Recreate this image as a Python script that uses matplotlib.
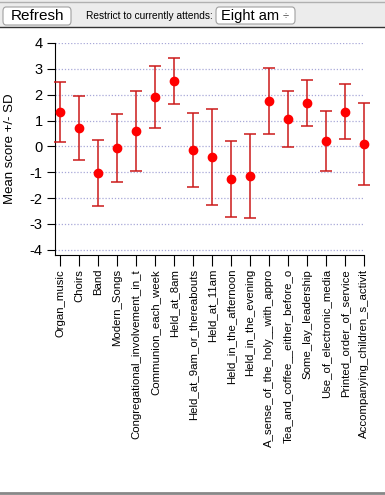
import matplotlib.pyplot as plt
from matplotlib.patches import Rectangle, FancyBboxPatch
from matplotlib.lines import Line2D
import numpy as np

plt.rcParams['font.family'] = ['Liberation Sans', 'DejaVu Sans']

items = ['Organ_music', 'Choirs', 'Band', 'Modern_Songs',
         'Congregational_involvement_in_t', 'Communion_each_week',
         'Held_at_8am', 'Held_at_9am_or_thereabouts', 'Held_at_11am',
         'Held_in_the_afternoon', 'Held_in_the_evening',
         'A_sense_of_the_holy__with_appro', 'Tea_and_coffee__either_before_o',
         'Some_lay_leadership', 'Use_of_electronic_media',
         'Printed_order_of_service', 'Accompanying_children_s_activit']
means = [1.33, 0.71, -1.03, -0.07, 0.59, 1.91, 2.53, -0.13, -0.41,
         -1.26, -1.15, 1.75, 1.06, 1.68, 0.21, 1.34, 0.09]
sds = [1.16, 1.24, 1.29, 1.32, 1.55, 1.20, 0.89, 1.44, 1.86,
       1.48, 1.62, 1.28, 1.09, 0.89, 1.17, 1.07, 1.59]
yticks = [-4, -3, -2, -1, 0, 1, 2, 3, 4]

fig = plt.figure(figsize=(3.85, 4.95), dpi=100)
W, H = 385, 495

def fx(px):
    return px / W

def fy(py):
    return 1 - py / H

# toolbar strip
fig.patches.append(Rectangle((0, fy(27)), 1, 27 / H, transform=fig.transFigure,
                             facecolor='#ececec', edgecolor='none', zorder=0))
fig.lines.append(Line2D([0, 1], [fy(1.5), fy(1.5)], transform=fig.transFigure,
                        color='#b0b0b0', lw=1))
fig.lines.append(Line2D([0, 1], [fy(27), fy(27)], transform=fig.transFigure,
                        color='#333333', lw=1))
fig.patches.append(FancyBboxPatch((fx(3), fy(25)), fx(68), 18 / H,
                                  boxstyle='round,pad=0,rounding_size=0.008',
                                  transform=fig.transFigure, facecolor='white',
                                  edgecolor='#a0a0a0', lw=0.8))
fig.text(fx(37), fy(16), 'Refresh', ha='center', va='center', fontsize=11)
fig.text(fx(86), fy(16), 'Restrict to currently attends:', ha='left',
         va='center', fontsize=7.3)
fig.patches.append(FancyBboxPatch((fx(216), fy(24)), fx(79), 17 / H,
                                  boxstyle='round,pad=0,rounding_size=0.008',
                                  transform=fig.transFigure, facecolor='white',
                                  edgecolor='#a0a0a0', lw=0.8))
fig.text(fx(221), fy(16), 'Eight am', ha='left', va='center', fontsize=10.5)
fig.text(fx(286), fy(16), '\u00f7', ha='center', va='center', fontsize=8,
         color='#444444')
fig.lines.append(Line2D([0, 1], [fy(493), fy(493)], transform=fig.transFigure,
                        color='#888888', lw=2))

ax = fig.add_axes([fx(55), fy(255), fx(364 - 55), (255 - 43) / H])
x = np.arange(len(items))
eb = ax.errorbar(x, means, yerr=sds, fmt='o', color='#ff0000', ms=6,
                 ecolor='#cc1a1a', elinewidth=1.1, capsize=4, capthick=1.1,
                 zorder=3)
for art in eb.lines[0:1] + tuple(eb.lines[1]) + tuple(eb.lines[2]):
    art.set_clip_on(False)

ax.set_xlim(-0.27, len(items) - 1)
ax.set_ylim(-4.2, 4)
ax.set_yticks(yticks)
ax.set_yticklabels([str(v) for v in yticks])
ax.set_xticks(x)
ax.set_xticklabels(items, rotation=90, fontsize=8.2)
for v in yticks:
    ax.axhline(v, color='#a8a8d8', lw=0.9, ls=(0, (1, 1.5)), zorder=1)

ax.spines['top'].set_visible(False)
ax.spines['right'].set_visible(False)
ax.tick_params(axis='y', direction='out', length=6, pad=3, labelsize=10.5)
ax.tick_params(axis='x', direction='out', length=8, pad=2)
ax.set_ylabel('Mean score +/- SD', fontsize=9.5, labelpad=10)

fig.savefig('out.png', dpi=100)
